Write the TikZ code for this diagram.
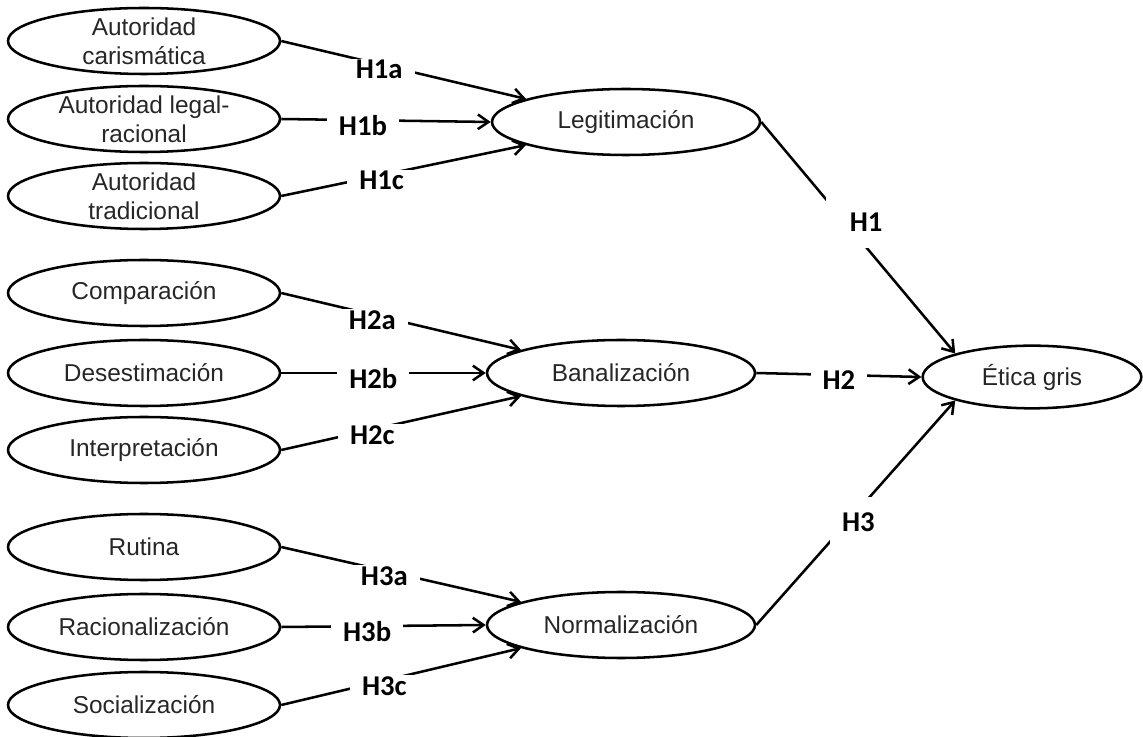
\documentclass[tikz,border=0pt]{standalone}
\usepackage{fontspec}
\setmainfont{Liberation Sans}
\newfontfamily\hypfont{Carlito}
\usetikzlibrary{shapes.geometric,arrows.meta}
\tikzset{
  ell/.style={ellipse, draw, inner sep=0pt, minimum width=204pt, minimum height=49.5pt,
    label={[align=center, text=black!85]center:#1}},
  hyp/.style={fill=white, font=\hypfont\bfseries\fontsize{21.5}{25}\selectfont,
    inner xsep=9pt, inner ysep=1pt, yshift=-4pt},
}
\begin{document}
\begin{tikzpicture}[x=0.75pt,y=-0.75pt,line width=1.9pt,
  >={Straight Barb[length=8pt,width=11pt]},font=\fontsize{18.3}{21.5}\selectfont]
	\useasboundingbox (0,0) rectangle (1143,737);
	\def\lx{144} % left column
	% antecedentes
	\node[ell={Autoridad\\carismática}] (aut1) at (\lx,41) {};
	\node[ell={Autoridad legal-\\racional}] (aut2) at (\lx,119) {};
	\node[ell={Autoridad\\tradicional}] (aut3) at (\lx,196) {};
	\node[ell={Comparación}] (com) at (\lx,293) {};
	\node[ell={Desestimación}] (des) at (\lx,373) {};
	\node[ell={Interpretación}] (int) at (\lx,450) {};
	\node[ell={Rutina}] (rut) at (\lx,547) {};
	\node[ell={Racionalización}] (rac) at (\lx,627) {};
	\node[ell={Socialización}] (soc) at (\lx,705) {};
	% mediadores
	\node[ell={Legitimación},minimum width=201pt] (leg) at (626,122) {};
	\node[ell={Banalización},minimum width=201pt] (ban) at (621,373) {};
	\node[ell={Normalización},minimum width=201pt] (nor) at (621,625) {};
	\node[ell={Ética gris},minimum width=164pt,minimum height=47pt] (eg) at (1032,377) {};
	% hipotesis
	\draw[->] (aut1.east) -- node[hyp,pos=.40]{H1a} (leg.167);
	\draw[->] (aut2.east) -- node[hyp,pos=.39]{H1b} (leg.west);
	\draw[->] (aut3.east) -- node[hyp,pos=.41]{H1c} (leg.193);
	\draw[->] (com.east) -- node[hyp,pos=.38]{H2a} (ban.167);
	\draw[->] (des.east) -- node[hyp,pos=.45]{H2b} (ban.west);
	\draw[->] (int.east) -- node[hyp,pos=.38]{H2c} (ban.193);
	\draw[->] (rut.east) -- node[hyp,pos=.43]{H3a} (nor.167);
	\draw[->] (rac.east) -- node[hyp,pos=.42]{H3b} (nor.west);
	\draw[->] (soc.east) -- node[hyp,pos=.43]{H3c} (nor.193);
	\draw[->] (leg.east) -- node[hyp,pos=.41,xshift=19pt,yshift=0pt,inner xsep=18pt,inner ysep=12pt]{H1} (eg.163);
	\draw[->] (ban.east) -- node[hyp,pos=.5]{H2} (eg.west);
	\draw[->] (nor.east) -- node[hyp,pos=.48,xshift=5pt,yshift=0pt,inner ysep=12pt]{H3} (eg.197);
\end{tikzpicture}
\end{document}
